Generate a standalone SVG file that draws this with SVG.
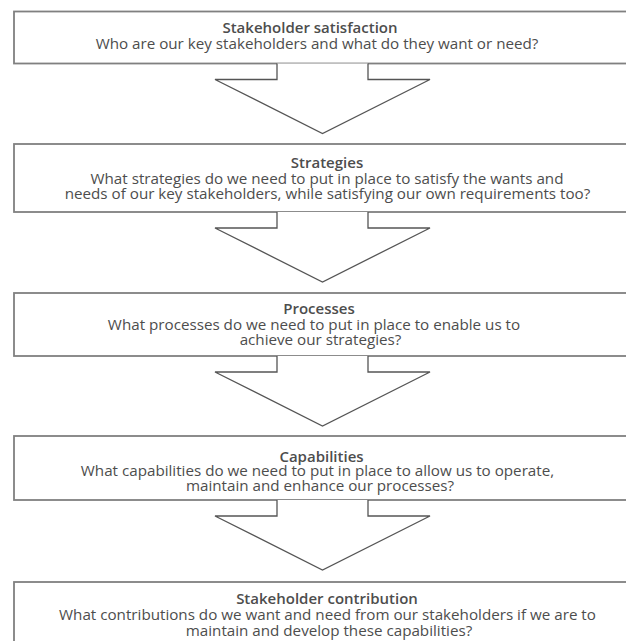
<svg xmlns="http://www.w3.org/2000/svg" width="626" height="641" viewBox="0 0 626 641">
  <style>
    .box { fill: #ffffff; stroke: #808080; stroke-width: 1.8; }
    .arrow { fill: #ffffff; stroke: #555555; stroke-width: 1.3; stroke-linejoin: miter; }
    text { font-family: "Open Sans", "Noto Sans", sans-serif; font-size: 15.2px; fill: #4d4d4d; text-anchor: middle; }
    .title { font-weight: 600; font-size: 15px; }
  </style>
  <defs>
    <!-- block arrow: stem hangs from a box bottom edge, head points down -->
    <polyline id="blockArrow" class="arrow" points="277,0 277,16 215,16 322.5,70 430,16 368,16 368,0"/>
  </defs>

  <g id="node-satisfaction">
    <rect class="box" x="14" y="11.5" width="630" height="52"/>
    <text class="title" x="310" y="33">Stakeholder satisfaction</text>
    <text x="317" y="49">Who are our key stakeholders and what do they want or need?</text>
  </g>

  <g id="node-strategies">
    <rect class="box" x="14" y="144" width="630" height="68"/>
    <text class="title" x="327" y="167.5">Strategies</text>
    <text x="327" y="184">What strategies do we need to put in place to satisfy the wants and</text>
    <text x="327.5" y="199">needs of our key stakeholders, while satisfying our own requirements too?</text>
  </g>

  <g id="node-processes">
    <rect class="box" x="14" y="293" width="630" height="63"/>
    <text class="title" x="319" y="314">Processes</text>
    <text x="314" y="330">What processes do we need to put in place to enable us to</text>
    <text x="320.5" y="344.5">achieve our strategies?</text>
  </g>

  <g id="node-capabilities">
    <rect class="box" x="14" y="436" width="630" height="64"/>
    <text class="title" x="321.5" y="461.5">Capabilities</text>
    <text x="317.5" y="475.5">What capabilities do we need to put in place to allow us to operate,</text>
    <text x="320" y="491">maintain and enhance our processes?</text>
  </g>

  <g id="node-contribution">
    <rect class="box" x="14" y="582" width="630" height="80"/>
    <text class="title" x="327" y="604">Stakeholder contribution</text>
    <text x="327.5" y="620">What contributions do we want and need from our stakeholders if we are to</text>
    <text x="329" y="636">maintain and develop these capabilities?</text>
  </g>

  <g id="connectors">
    <use href="#blockArrow" y="63.5"/>
    <use href="#blockArrow" y="212"/>
    <use href="#blockArrow" y="356"/>
    <use href="#blockArrow" y="500"/>
  </g>
</svg>
